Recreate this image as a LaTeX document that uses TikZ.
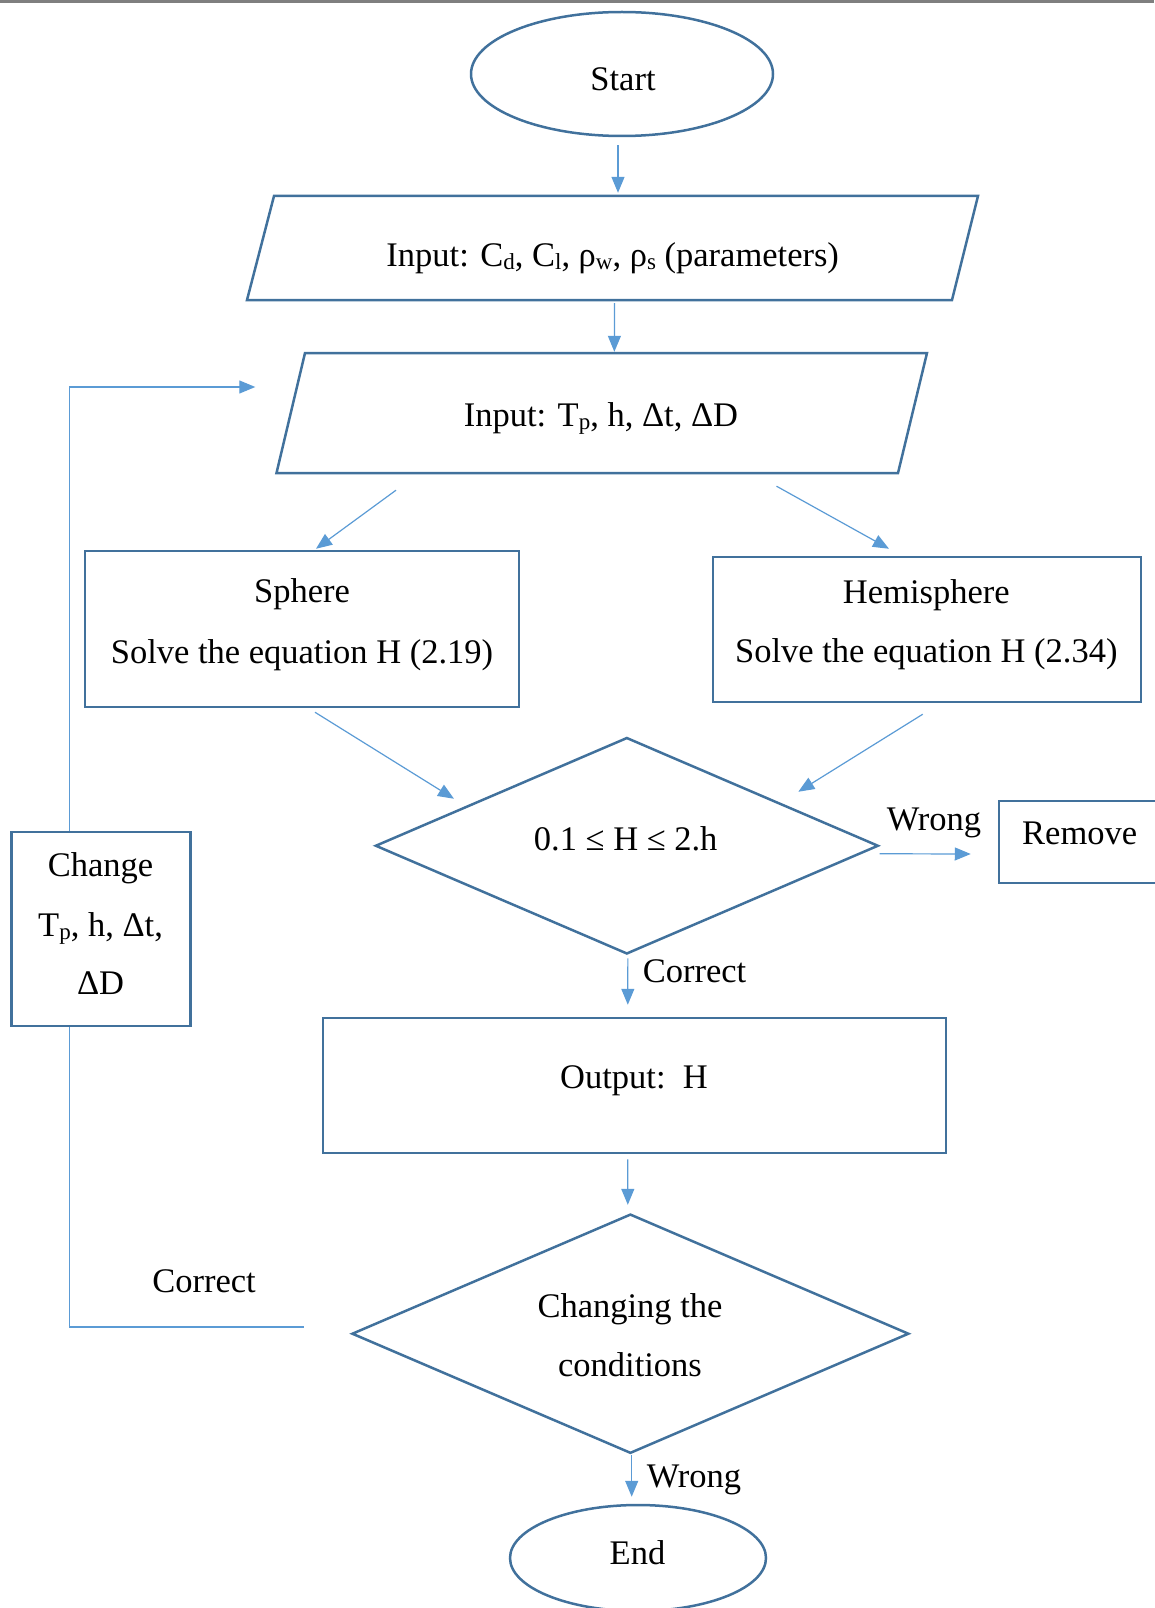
\documentclass[tikz,border=0pt]{standalone}
\usepackage{fontspec}
\setmainfont{Liberation Serif}
\usetikzlibrary{arrows.meta,shapes.geometric,calc}
\definecolor{shpc}{HTML}{41719C}
\definecolor{arcc}{HTML}{5B9BD5}
\definecolor{topgray}{HTML}{7F7F7F}
\newcommand\sbs[1]{\raisebox{-3pt}{\fontsize{23}{23}\selectfont #1}}
\begin{document}
\begin{tikzpicture}[x=1pt,y=-1pt,
  shp/.style={draw=shpc,line width=2.5pt,inner sep=0pt},
  ghost/.style={inner sep=0pt},
  arr/.style={draw=arcc,line width=1.2pt,-{Triangle[length=16pt,width=13pt,fill=arcc]}},
  lin/.style={draw=arcc,line width=1.2pt},
  txt/.style={anchor=base,inner sep=0pt,font=\fontsize{34.5}{40}\selectfont}]
\useasboundingbox (0,0) rectangle (1154,1608);
\fill[topgray] (0,0) rectangle (1154,3.5);

% shapes
\node[shp,ellipse,minimum width=302pt,minimum height=124pt] (start) at (622,74) {};
\draw[draw=shpc,line width=2.5pt] (274,196) -- (978,196) -- (952,300) -- (247,300) -- cycle;
\node[ghost,minimum width=731pt,minimum height=104pt] (p1) at (612.5,248) {};
\draw[draw=shpc,line width=2.5pt] (305,353) -- (927,353) -- (898,473) -- (276.5,473) -- cycle;
\node[ghost,minimum width=650.5pt,minimum height=120pt] (p2) at (601.75,413) {};
\node[shp,rectangle,minimum width=434pt,minimum height=156pt] (sph) at (302,629) {};
\node[shp,rectangle,minimum width=428pt,minimum height=145pt] (hem) at (927,629.5) {};
\node[shp,diamond,minimum width=503pt,minimum height=216.5pt] (d1) at (626.85,845.75) {};
\node[shp,rectangle,minimum width=176pt,minimum height=82pt] (rem) at (1087,842) {};
\node[shp,rectangle,minimum width=179pt,minimum height=194pt] (chg) at (101.1,929) {};
\node[shp,rectangle,minimum width=623pt,minimum height=135pt] (out) at (634.5,1085.5) {};
\node[shp,diamond,minimum width=557pt,minimum height=239.3pt] (d2) at (630.4,1333.7) {};
\node[shp,ellipse,minimum width=256pt,minimum height=106pt] (end) at (638,1558) {};

% texts
\node[txt] (tstart) at (623,91) {Start};
\node[txt] (tp1) at (612.7,266) {Input: C\sbs{d}, C\sbs{l}, ρ\sbs{w}, ρ\sbs{s} (parameters)};
\node[txt] (tp2) at (601,426) {Input: T\sbs{p}, h, Δt, ΔD};
\node[txt] (tsph1) at (302,602) {Sphere};
\node[txt] (tsph2) at (302,663) {Solve the equation H (2.19)};
\node[txt] (them1) at (926.3,603) {Hemisphere};
\node[txt] (them2) at (926.3,662) {Solve the equation H (2.34)};
\node[txt] (td1) at (625.7,850) {0.1 ≤ H ≤ 2.h};
\node[txt] (tw1) at (934,830) {Wrong};
\node[txt] (trem) at (1079.7,844) {Remove};
\node[txt] (tchg1) at (100.6,876.5) {Change};
\node[txt] (tchg2) at (100.6,936) {T\sbs{p}, h, Δt,};
\node[txt] (tchg3) at (100.6,994) {ΔD};
\node[txt] (tc1) at (694.5,982.7) {Correct};
\node[txt] (tout) at (634,1088) {Output:\ \ H};
\node[txt] (tc2) at (204,1292.5) {Correct};
\node[txt] (td21) at (630,1317) {Changing the};
\node[txt] (td22) at (630,1376.7) {conditions};
\node[txt] (tw2) at (694,1487) {Wrong};
\node[txt] (tend) at (637.5,1564) {End};

% connectors
\draw[arr] ([shift={(-4,8)}]start.south) -- ([shift={(5.5,-3)}]p1.north);
\draw[arr] ([shift={(2,3)}]p1.south) -- ([shift={(12.6,-1)}]p2.north);
\draw[arr] ([shift={(-205.75,17)}]p2.south) -- ([shift={(14,-1)}]sph.north);
\draw[arr] ([shift={(174.75,13)}]p2.south) -- ([shift={(-38,-7)}]hem.north);
\draw[arr] ([shift={(13,4)}]sph.south) -- ([shift={(-172.85,62.5)}]d1.north);
\draw[arr] ([shift={(-4.3,11)}]hem.south) -- ([shift={(171.45,55.5)}]d1.north);
\draw[arr] ([shift={(0,8)}]d1.east) -- ([shift={(-27,12)}]rem.west);
\draw[arr] ([shift={(1,3)}]d1.south) -- ([shift={(-6.7,-12)}]out.north);
\draw[arr] ([shift={(-6.7,5)}]out.south) -- ([shift={(-2.6,-8)}]d2.north);
\draw[arr] ([shift={(1.3,0)}]d2.south) -- ([shift={(-6.3,-7)}]end.north);
\draw[lin] ([shift={(-47,-6.7)}]d2.west) -| ([shift={(-32,0)}]chg.south);
\draw[arr] ([shift={(-32,0)}]chg.north) |- ([shift={(-21,-26)}]p2.west);
\end{tikzpicture}
\end{document}
